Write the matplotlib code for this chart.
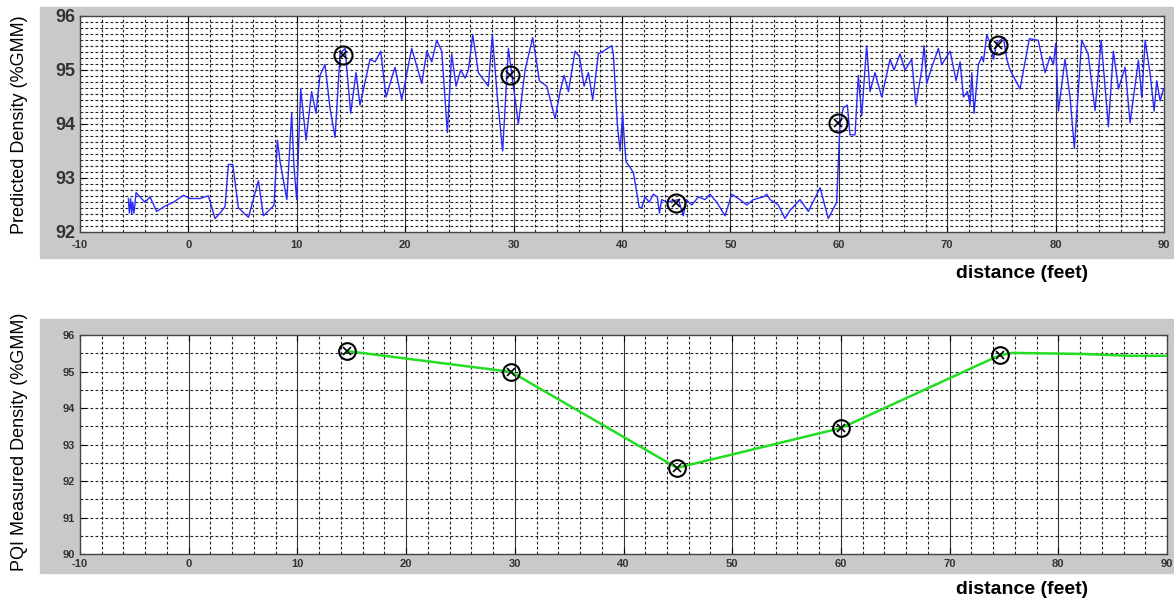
import numpy as np
import matplotlib
matplotlib.use("Agg")
import matplotlib.pyplot as plt
from matplotlib.patches import Rectangle
from matplotlib.ticker import MultipleLocator

plt.rcParams['font.family'] = ['Liberation Sans Narrow', 'Liberation Sans', 'DejaVu Sans']
plt.rcParams['axes.unicode_minus'] = False

# predicted density along the lane (blue trace)
dist = [-5.54, -5.45, -5.33, -5.23, -5.14, -5.02, -4.83, -4.46, -4.0, -3.54,
        -2.93, -2.16, -1.39, -0.46, 0.15, 1.07, 1.84, 2.46, 2.92, 3.38,
        3.69, 4.09, 4.61, 5.54, 6.46, 6.92, 7.69, 7.9, 8.21, 8.46,
        9.08, 9.53, 9.74, 9.99, 10.36, 10.85, 11.37, 11.77, 12.14, 12.6,
        13.06, 13.53, 13.99, 14.45, 14.97, 15.46, 15.83, 16.76, 17.22, 17.74,
        18.23, 19.06, 19.68, 20.6, 21.53, 21.99, 22.45, 22.91, 23.37, 23.89,
        24.29, 24.69, 25.12, 25.52, 25.83, 26.23, 26.75, 27.67, 28.04, 28.5,
        28.99, 29.52, 29.98, 30.44, 31.06, 31.76, 32.38, 33.06, 33.83, 34.29,
        34.66, 35.06, 35.67, 36.07, 36.5, 36.9, 37.3, 37.82, 38.29, 39.05,
        39.2, 39.57, 39.82, 40.06, 40.18, 40.37, 40.74, 41.05, 41.6, 41.82,
        42.12, 42.52, 42.89, 43.26, 43.45, 43.66, 44.12, 45.2, 45.66, 45.91,
        46.43, 47.05, 47.66, 48.12, 48.74, 49.51, 50.12, 50.89, 51.51, 52.12,
        53.05, 53.35, 53.66, 54.42, 55.03, 55.5, 56.42, 57.19, 58.27, 59.03,
        59.8, 60.11, 60.42, 60.79, 61.03, 61.5, 61.8, 62.11, 62.57, 62.88,
        63.34, 63.96, 64.73, 65.1, 65.65, 66.11, 66.73, 67.1, 67.65, 67.87,
        68.11, 68.57, 69.19, 69.5, 70.27, 70.82, 71.19, 71.5, 71.87, 72.11,
        72.27, 72.48, 72.88, 73.19, 73.34, 73.65, 73.96, 74.27, 74.57, 75.19,
        75.5, 75.8, 76.72, 77.58, 78.4, 79.03, 79.49, 79.8, 80.0, 80.26,
        80.87, 81.33, 81.73, 82.41, 83.0, 83.64, 84.2, 84.87, 85.33, 85.8,
        86.41, 86.87, 87.64, 87.95, 88.26, 88.72, 89.09, 89.33, 89.64, 89.95]
pred = [92.62, 92.35, 92.62, 92.33, 92.55, 92.35, 92.73, 92.65, 92.55, 92.65,
        92.38, 92.48, 92.55, 92.68, 92.62, 92.62, 92.67, 92.25, 92.35, 92.47,
        93.25, 93.25, 92.45, 92.27, 92.95, 92.3, 92.45, 92.5, 93.7, 93.3,
        92.6, 94.2, 93.2, 92.6, 94.65, 93.7, 94.6, 94.2, 94.9, 95.1,
        94.3, 93.75, 95.3, 95.4, 94.2, 94.95, 94.35, 95.2, 95.15, 95.35,
        94.5, 95.05, 94.45, 95.4, 94.75, 95.35, 95.15, 95.55, 95.35, 93.84,
        95.3, 94.7, 95.0, 94.85, 95.0, 95.65, 94.95, 94.7, 95.65, 94.5,
        93.5, 95.4, 94.7, 94.0, 95.0, 95.6, 94.8, 94.7, 94.1, 94.6,
        94.9, 94.6, 95.35, 95.25, 94.7, 94.95, 94.45, 95.3, 95.35, 95.45,
        95.3, 94.0, 93.5, 94.2, 93.8, 93.3, 93.2, 93.1, 92.45, 92.45,
        92.65, 92.55, 92.7, 92.65, 92.35, 92.6, 92.55, 92.6, 92.3, 92.6,
        92.5, 92.65, 92.6, 92.7, 92.55, 92.3, 92.7, 92.6, 92.5, 92.6,
        92.65, 92.7, 92.6, 92.5, 92.25, 92.4, 92.6, 92.38, 92.82, 92.25,
        92.55, 94.0, 94.3, 94.35, 93.8, 93.8, 94.9, 94.15, 95.45, 94.6,
        94.95, 94.5, 95.2, 95.0, 95.3, 95.0, 95.2, 94.35, 95.0, 95.45,
        94.75, 95.05, 95.4, 95.1, 95.35, 94.8, 95.15, 94.5, 94.6, 94.35,
        94.95, 94.2, 95.1, 95.25, 95.15, 95.65, 95.5, 95.2, 95.5, 95.6,
        95.2, 95.0, 94.65, 95.58, 95.55, 94.95, 95.25, 95.1, 95.49, 94.24,
        95.2, 94.5, 93.55, 95.55, 95.3, 94.25, 95.55, 93.95, 95.35, 94.65,
        95.05, 94.02, 95.18, 94.49, 95.55, 94.93, 94.24, 94.8, 94.43, 94.65]

# predicted density at the PQI test locations
test_dist = [14.26, 29.67, 44.98, 59.93, 74.69]
test_pred = [95.27, 94.90, 92.54, 94.02, 95.46]

# PQI measurements, line carried on to the end of the lane
pqi_dist = [14.56, 29.65, 44.92, 60.0, 74.64, 75.8, 82.3, 86.5, 90.0]
pqi_val = [95.56, 94.99, 92.36, 93.45, 95.45, 95.51, 95.48, 95.43, 95.43]
n_tests = 5

W, H = 1174, 601
fig = plt.figure(figsize=(W / 100, H / 100), dpi=100)

# grey panels behind each plot
for (x0, y0, x1, y1) in [(40, 7, 1174, 258), (40, 319, 1174, 573)]:
    fig.patches.append(Rectangle((x0 / W, 1 - y1 / H), (x1 - x0) / W, (y1 - y0) / H,
                                 transform=fig.transFigure, color='#c9c9c9', zorder=-10))

ax1 = fig.add_axes([80 / W, 1 - 232 / H, (1164 - 80) / W, (232 - 16) / H])
ax2 = fig.add_axes([80 / W, 1 - 554 / H, (1167 - 80) / W, (554 - 335) / H])

dash = (0, (2.5, 2))


def style(ax, ylo, yhi, ystep, hgrid):
    ax.set_xlim(-10, 90)
    ax.set_ylim(ylo, yhi)
    ax.xaxis.set_major_locator(MultipleLocator(10))
    ax.yaxis.set_major_locator(MultipleLocator(ystep))
    ax.tick_params(direction='in', length=4, width=0.8, top=True, right=True)
    for x in np.arange(-8, 90, 2):
        if x % 10 == 0:
            ax.axvline(x, color='#333333', lw=0.8, zorder=1)
        else:
            ax.axvline(x, color='#222222', lw=0.8, ls=dash, zorder=1)
    for y in hgrid[1:-1]:
        ax.axhline(y, color='#222222', lw=0.8, ls=dash, zorder=1)
    for s in ax.spines.values():
        s.set_color('#444444')
        s.set_linewidth(1.0)


style(ax1, 92, 96, 1, np.linspace(92, 96, 37))
style(ax2, 90, 96, 1, np.arange(90, 96.01, 0.5))
ax1.tick_params(axis='x', pad=6)

ax1.plot(dist, pred, color='#2b2bff', lw=1.0, zorder=3)
ax1.plot(test_dist, test_pred, 'o', ms=13, mfc='none', mec='black', mew=1.5, zorder=4)
ax1.plot(test_dist, test_pred, 'x', ms=6, mec='black', mew=1.2, zorder=4)

ax2.plot(pqi_dist, pqi_val, color='#22dd22', lw=1.8, zorder=3)
ax2.plot(pqi_dist[:n_tests], pqi_val[:n_tests], 'o', ms=12, mfc='none', mec='black', mew=1.5, zorder=4)
ax2.plot(pqi_dist[:n_tests], pqi_val[:n_tests], 'x', ms=6, mec='black', mew=1.2, zorder=4)

tick_font = ['Liberation Sans', 'DejaVu Sans']
for lab in ax1.get_yticklabels():
    lab.set_fontsize(13)
    lab.set_fontweight('bold')
    lab.set_color('#333333')
    lab.set_family(tick_font)
for ax in (ax1, ax2):
    for lab in ax.get_xticklabels():
        lab.set_fontsize(8)
        lab.set_fontweight('bold')
        lab.set_color('#333333')
        lab.set_family(tick_font)
for lab in ax2.get_yticklabels():
    lab.set_fontsize(8)
    lab.set_fontweight('bold')
    lab.set_color('#333333')
    lab.set_family(tick_font)

fig.text(20 / W, 1 - 125 / H, 'Predicted Density (%GMM)', rotation=90,
         ha='center', va='center', fontsize=13)
fig.text(20 / W, 1 - 442 / H, 'PQI Measured Density (%GMM)', rotation=90,
         ha='center', va='center', fontsize=13)
fig.text(1022 / W, 1 - 273 / H, 'distance (feet)', ha='center', va='center',
         fontsize=14, fontweight='bold', family=tick_font)
fig.text(1022 / W, 1 - 589 / H, 'distance (feet)', ha='center', va='center',
         fontsize=14, fontweight='bold', family=tick_font)

fig.savefig('out.png', dpi=100)
